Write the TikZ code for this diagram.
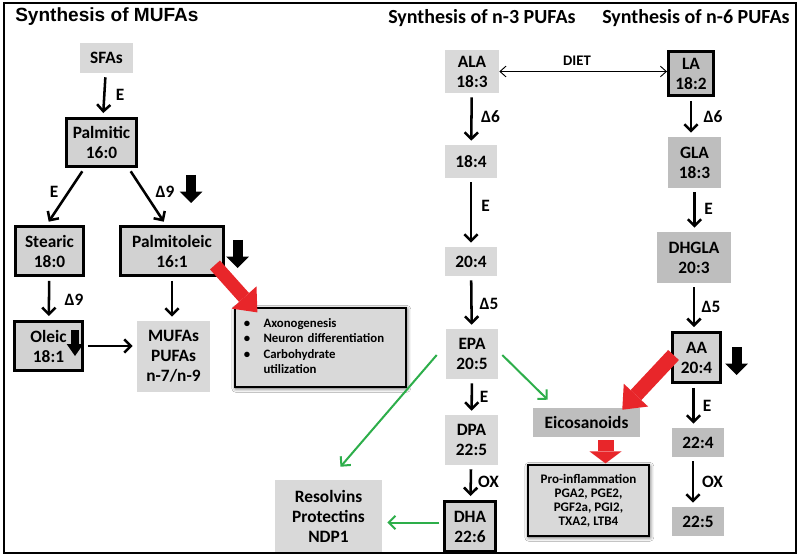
\documentclass[tikz,border=0pt]{standalone}
\usepackage{fontspec}
\setmainfont{Carlito}
\newfontfamily\arialfont{Liberation Sans}
\usetikzlibrary{arrows.meta, calc, shadows.blur}

\definecolor{lgray}{HTML}{D9D9D9}
\definecolor{mgray}{HTML}{D2D2D2}
\definecolor{dgray}{HTML}{BEBEBE}
\definecolor{fared}{HTML}{E8262A}
\definecolor{fagreen}{HTML}{2DAE4A}

\begin{document}
\begin{tikzpicture}[x=0.75pt, y=-0.75pt,
    every node/.style={font=\bfseries\fontsize{13}{15}\selectfont},
    sz/.style 2 args={minimum width=#1*0.75pt, minimum height=#2*0.75pt},
    box/.style={fill=lgray, align=center, inner sep=0pt},
    darkbox/.style={box, fill=dgray},
    thickbox/.style={box, fill=mgray, draw=black, line width=2.2pt},
    notebox/.style={box, draw=black, line width=0.9pt,
        blur shadow={shadow xshift=0.6pt, shadow yshift=-1pt, shadow blur radius=3pt, shadow opacity=70}},
    lbl/.style={inner sep=0pt},
    title/.style={anchor=west, inner sep=0pt, font=\bfseries\fontsize{15}{18}\selectfont},
    flow/.style={line width=1.9pt, -{Straight Barb[length=5pt, width=10pt]}, shorten <=3pt, shorten >=3pt},
    diet/.style={line width=0.7pt, {Straight Barb[length=4.5pt, width=8pt]}-{Straight Barb[length=4.5pt, width=8pt]}},
    greenflow/.style={draw=fagreen, line width=1.5pt, -{Straight Barb[length=5pt, width=10pt]}},
    redarrow/.style={draw=fared, line width=#1, -{Triangle[length=15pt, width=25pt, line width=0pt]}},
    downmark/.style={line width=7.5pt, -{Triangle[length=8.5pt, width=17pt, line width=0pt]}}]

    % background and size
    \fill[white] (0,0) rectangle (800,556);

    % Titles
    \node[title, font=\arialfont\bfseries\fontsize{14.3}{17}\selectfont] (tmufa) at (15,17) {Synthesis of MUFAs};
    \node[title] (tn3) at (388,18) {Synthesis of n-3 PUFAs};
    \node[title] (tn6) at (602,18) {Synthesis of n-6 PUFAs};

    % MUFA branch
    \node[box, sz={53}{30}] (sfa) at (106.5,58) {SFAs};
    \node[thickbox, sz={70}{48}] (palmitic) at (101.5,142.5) {Palmitic\\16:0};
    \node[thickbox, sz={68}{49}] (stearic) at (49.5,251) {Stearic\\18:0};
    \node[thickbox, sz={103}{49}] (palmitoleic) at (172,251) {Palmitoleic\\16:1};
    \node[thickbox, sz={68}{49}] (oleic) at (48.5,346) {Oleic\\18:1};
    \node[box, sz={73}{71}] (mufas) at (173.5,356.5) {MUFAs\\PUFAs\\n-7/n-9};
    \node[notebox, sz={171}{79}, text width=115pt, align=left,
        font=\bfseries\fontsize{9.6}{11.4}\selectfont] (bullets) at (320.5,347.5)
        {\begin{tabular}{@{}l@{\hspace{10pt}}l@{}}
            \textbullet & Axonogenesis\\
            \textbullet & Neuron differentiation\\
            \textbullet & Carbohydrate\\
                        & utilization
        \end{tabular}};

    \draw[flow] (sfa) -- (palmitic);
    \draw[flow] ($(palmitic.south)+(-17,0)$) -- ($(stearic.north)+(-3,0)$);
    \draw[flow] ($(palmitic.south)+(27,0)$) -- ($(palmitoleic.north)+(-6,0)$);
    \draw[flow] (stearic) -- (oleic);
    \draw[flow] (palmitoleic.south) -- (palmitoleic.south |- mufas.north);
    \draw[flow] (oleic.east) -- (oleic.east -| mufas.west);

    \node[lbl] (esfa) at (120,95) {E};
    \node[lbl] (est) at (54,192) {E};
    \node[lbl] (dpalm) at (165,192) {Δ9};
    \node[lbl] (dst) at (74,300) {Δ9};

    % Down marks
    \draw[downmark] (191,175) -- (191,203);
    \draw[downmark] (237.5,240) -- (237.5,268);
    \draw[line width=6pt, -{Triangle[length=9pt, width=12.5pt, line width=0pt]}] (75,330) -- (75,356);

    % n-3 column
    \node[box, sz={54}{43}] (ala) at (472,71.5) {ALA\\18:3};
    \node[box, sz={52}{33}] (t184) at (471,161.5) {18:4};
    \node[box, sz={52}{29}] (t204) at (471,261.5) {20:4};
    \node[box, sz={52}{50}] (epa) at (472,354) {EPA\\20:5};
    \node[box, sz={53}{50}] (dpa) at (471.5,440) {DPA\\22:5};
    \node[thickbox, sz={51}{50}] (dha) at (470,526.5) {DHA\\22:6};
    \node[box, sz={107}{73}] (resolvins) at (328.5,516.5) {Resolvins\\Protectins\\NDP1};

    \draw[flow] (ala) -- (t184);
    \draw[flow] (t184) -- (t204);
    \draw[flow] (t204) -- (epa);
    \draw[flow] (epa) -- (dpa);
    \draw[flow] (dpa) -- (dha);

    \node[lbl] (d6a) at (490.5,117) {Δ6};
    \node[lbl] (ea) at (485.5,206) {E};
    \node[lbl] (d5a) at (489,304) {Δ5};
    \node[lbl] (eb) at (484,397) {E};
    \node[lbl] (oxa) at (488.5,482) {OX};

    % n-6 column
    \node[thickbox, fill=dgray, sz={45}{44}] (la) at (691,73.5) {LA\\18:2};
    \node[darkbox, sz={53}{51}] (gla) at (694.5,162.5) {GLA\\18:3};
    \node[darkbox, sz={74}{51}] (dhgla) at (694,257.5) {DHGLA\\20:3};
    \node[thickbox, sz={48}{50}] (aa) at (696.5,357.5) {AA\\20:4};
    \node[darkbox, sz={52}{29}] (t224) at (698,442.5) {22:4};
    \node[darkbox, sz={52}{29}] (t225) at (698,521.5) {22:5};
    \node[darkbox, sz={107}{29}] (eicos) at (586.5,422.5) {Eicosanoids};
    \node[notebox, sz={121}{71}, font=\bfseries\fontsize{9.8}{10.5}\selectfont] (pro) at (588.5,500.5)
        {Pro-inflammation\\PGA2, PGE2,\\PGF2a, PGI2,\\TXA2, LTB4};

    \draw[flow] (la.south) -- (la.south |- gla.north);
    \draw[flow] (gla.south) -- (gla.south |- dhgla.north);
    \draw[flow] (dhgla.south) -- (dhgla.south |- aa.north);
    \draw[flow] ($(aa.south)+(-3,0)$) -- ($(aa.south |- t224.north)+(-3,0)$);
    \draw[flow] ($(t224.south)+(-5,0)$) -- ($(t224.south |- t225.north)+(-5,0)$);

    \node[lbl] (d6b) at (713,117) {Δ6};
    \node[lbl] (ec) at (708.5,209) {E};
    \node[lbl] (d5b) at (711,307) {Δ5};
    \node[lbl] (ed) at (707,406) {E};
    \node[lbl] (oxb) at (712.5,482) {OX};

    \draw[downmark] (736.5,347) -- (736.5,375);

    % Diet exchange
    \draw[diet] (ala.east) -- (ala.east -| la.west);
    \node[lbl, font=\bfseries\fontsize{11}{13}\selectfont] (diet) at (577,60.5) {DIET};

    % Red arrows
    \draw[redarrow=10pt] ($(palmitoleic.south east)+(-10,-12)$) -- ($(bullets.north west)+(23,5)$);
    \draw[redarrow=11pt] ($(aa.west)+(2.5,-2.5)$) -- ($(eicos.north east)+(-18,2)$);
    \draw[draw=fared, line width=12pt, -{Triangle[length=9pt, width=24pt, line width=0pt]}]
        ($(eicos.south)+(19,3)$) -- ($(pro.north)+(17,-1)$);

    % Green arrows
    \draw[greenflow] ($(epa.east)+(4,1)$) -- ($(eicos.north west)+(15,-8)$);
    \draw[greenflow] ($(epa.west)+(-9,1)$) -- ($(resolvins.north)+(12,-13)$);
    \draw[greenflow] ($(dha.west)+(-4,-4)$) -- ($(dha.west -| resolvins.east)+(5,-4)$);

    % Frame
    \draw[line width=1.2pt] (4,3) rectangle (796,553);
\end{tikzpicture}
\end{document}
